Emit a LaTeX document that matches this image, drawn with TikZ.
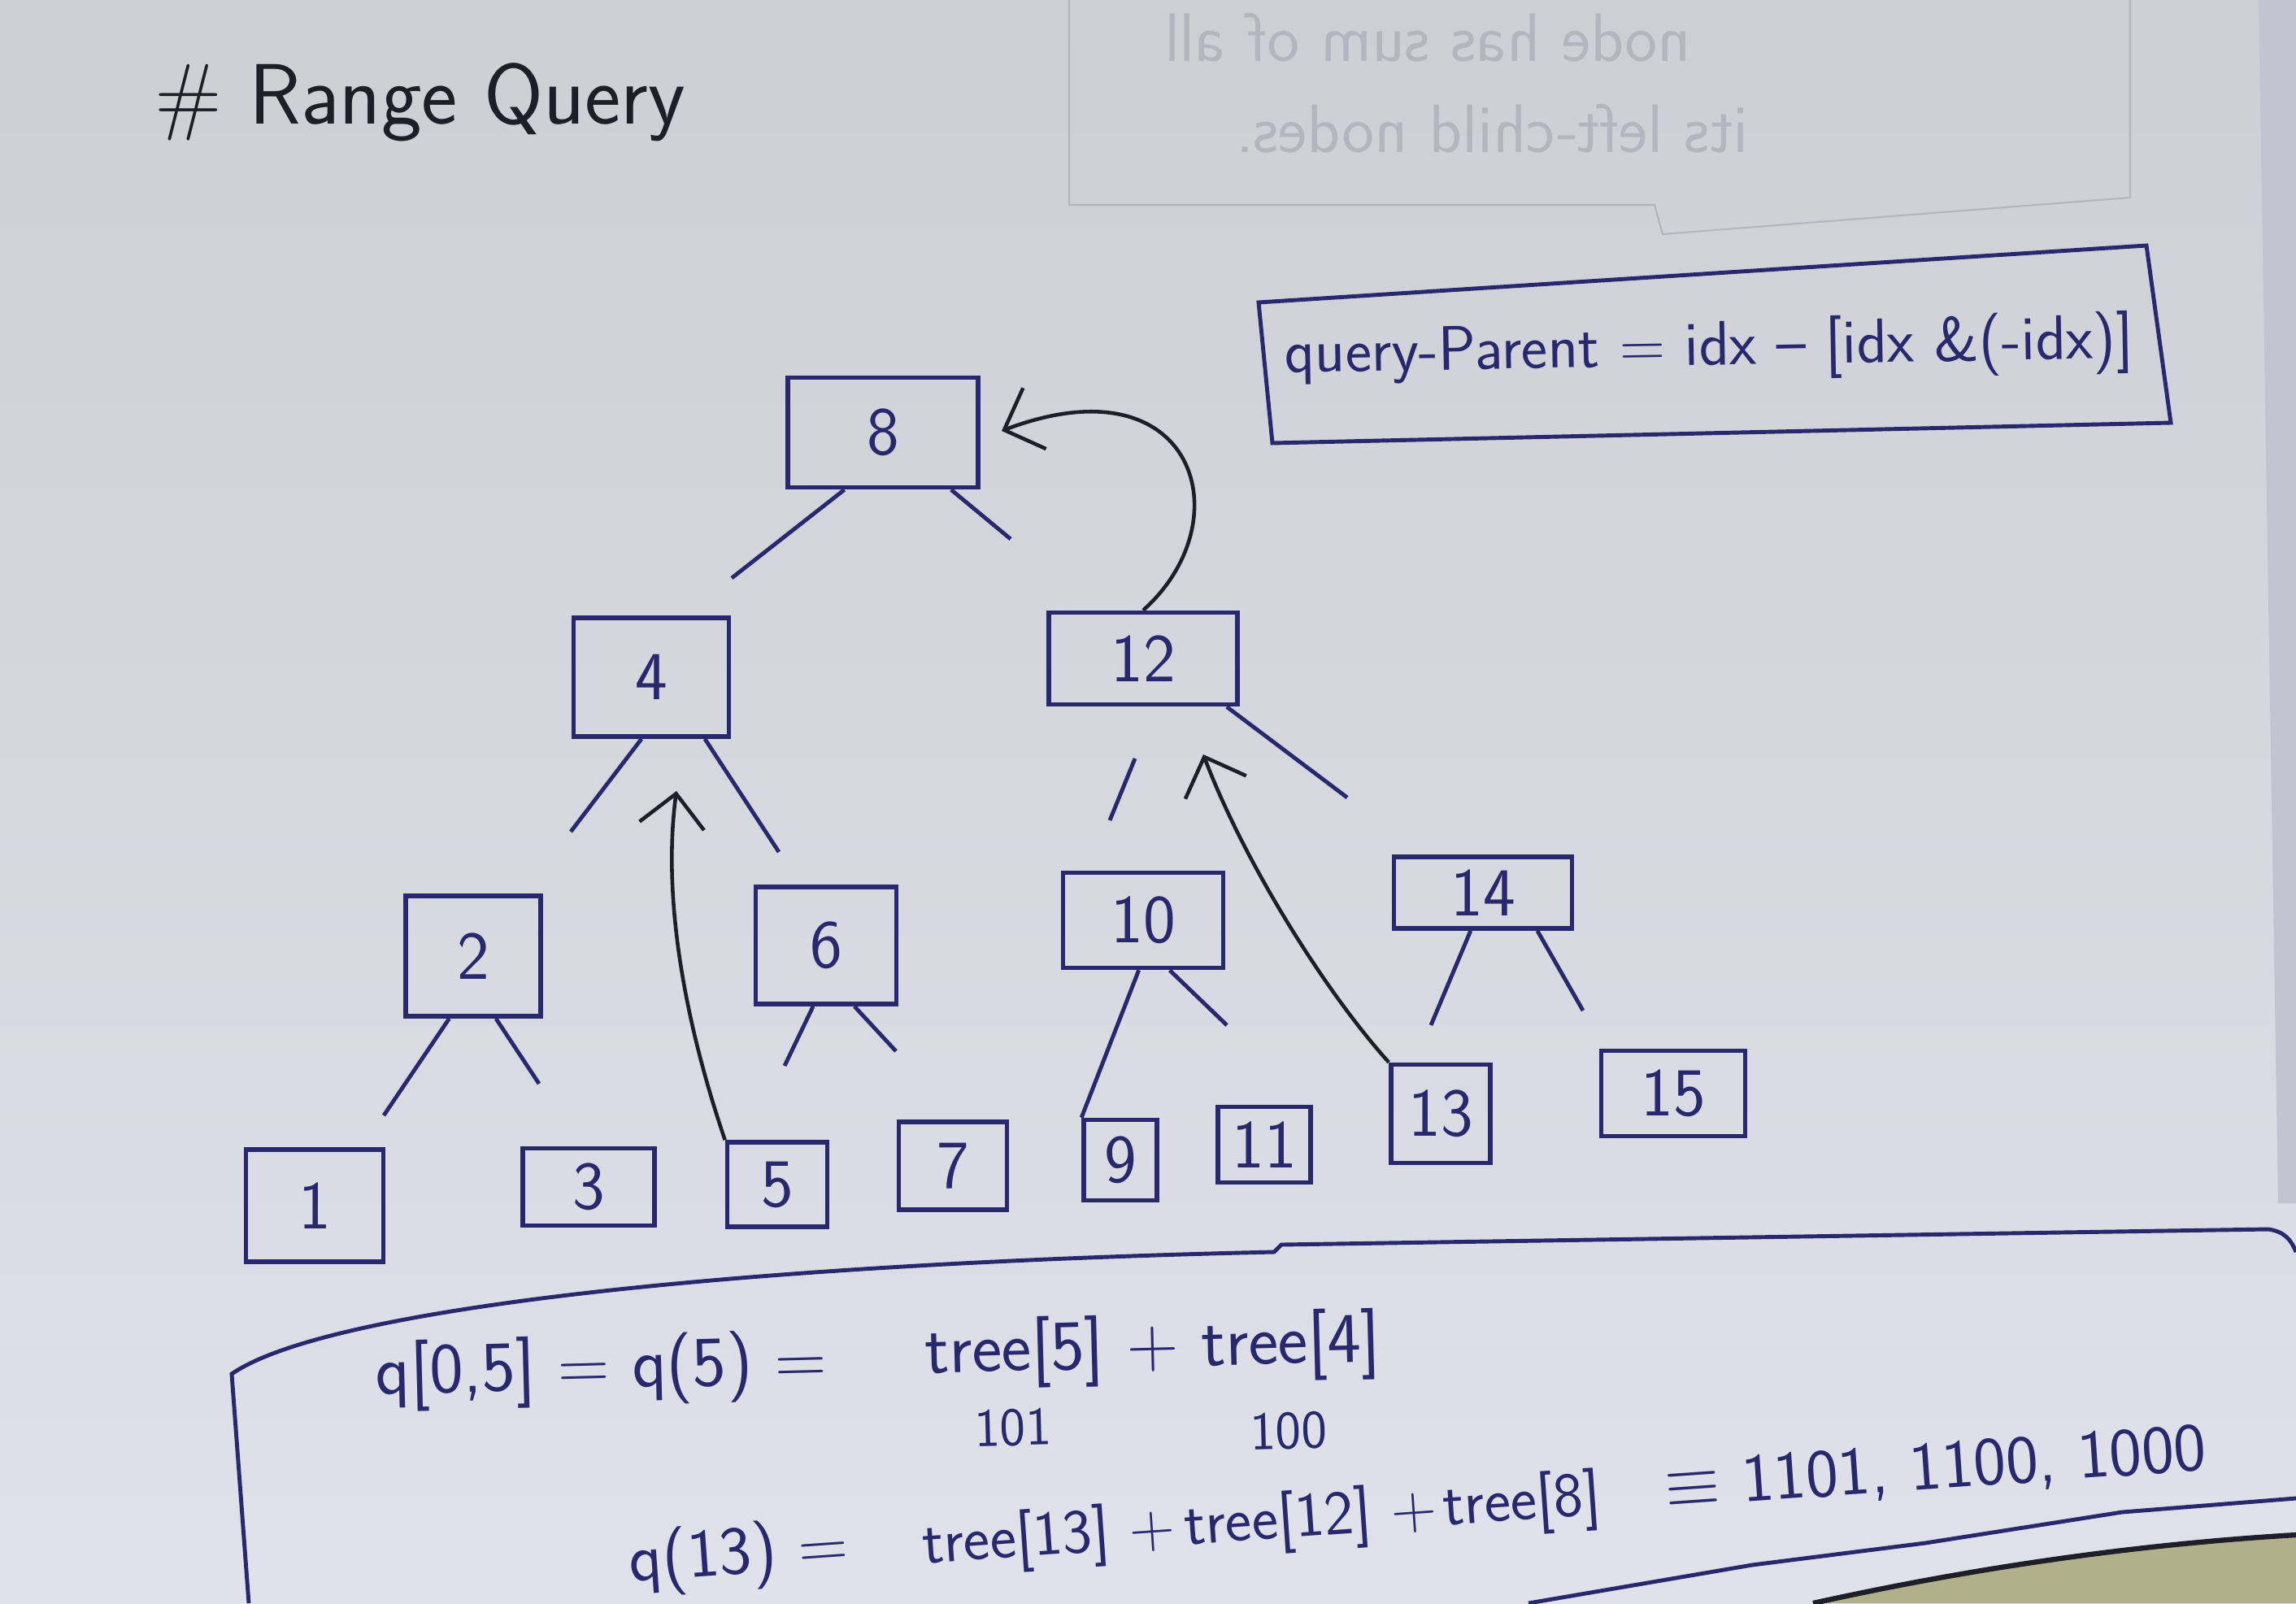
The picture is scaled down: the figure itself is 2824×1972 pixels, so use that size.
\documentclass[tikz,border=0pt]{standalone}
\usetikzlibrary{arrows.meta}
\definecolor{ink}{RGB}{40,41,108}
\definecolor{pen}{RGB}{30,30,40}
\definecolor{paperA}{RGB}{205,207,213}
\definecolor{paperB}{RGB}{223,225,235}
\definecolor{pagerim}{RGB}{194,196,210}
\definecolor{desk}{RGB}{176,176,138}
\definecolor{ghostgray}{RGB}{180,181,190}
\tikzset{
  cell/.style={draw=ink, line width=1.6pt, text=ink, inner sep=0pt,
    font=\sffamily\fontsize{24}{28}\selectfont},
  stub/.style={draw=ink, line width=1.4pt},
  hop/.style={draw=pen, line width=1.3pt, -{Straight Barb[length=0.4cm,width=0.8cm]}},
  note/.style={text=ink, font=\sffamily\fontsize{22}{26}\selectfont},
  sum/.style={text=ink, inner sep=0pt, font=\sffamily\fontsize{24}{28}\selectfont},
  small sum/.style={sum, font=\sffamily\fontsize{22}{26}\selectfont},
  bits/.style={sum, font=\sffamily\fontsize{19}{22}\selectfont},
  ghost/.style={draw=ghostgray, line width=0.6pt},
  ghosttext/.style={text=ghostgray, font=\sffamily\fontsize{24}{28}\selectfont}
}

\begin{document}
\begin{tikzpicture}[x=0.01cm,y=-0.01cm]
\useasboundingbox (0,0) rectangle (2824,1972);
\shade[top color=paperA,bottom color=paperB] (0,0) rectangle (2824,1972);
\fill[pagerim] (2778,0) -- (2824,0) -- (2824,1480) -- (2802,1480) -- cycle;
\fill[desk] (2230,1972) .. controls (2420,1930) and (2620,1900) .. (2824,1888) -- (2824,1972) -- cycle;
\draw[pen, line width=1.8pt] (2230,1972) .. controls (2420,1930) and (2620,1900) .. (2824,1888);

% back of the page
\draw[ghost] (1315,0) -- (1315,252) -- (2035,252) -- (2045,288) -- (2620,243) -- (2620,0);
\node[ghosttext, xscale=-1] (back1) at (1756,46) {node has sum of all};
\node[ghosttext, xscale=-1] (back2) at (1835,158) {its left-child nodes.};

\node[text=pen, font=\sffamily\fontsize{30}{34}\selectfont] (title) at (517,126) {\# Range Query};

\draw[stub] (1548,372) -- (2640,302) -- (2670,520) -- (1565,545) -- cycle;
\node[note, rotate=1] (parent) at (2102,430) {query-Parent = idx -- [idx \&(-idx)]};

\node[cell, minimum width=2.34cm, minimum height=1.35cm] (n8) at (1086,532) {8};
\node[cell, minimum width=1.91cm, minimum height=1.46cm] (n4) at (801,833) {4};
\node[cell, minimum width=2.32cm, minimum height=1.13cm] (n12) at (1406,810) {12};
\node[cell, minimum width=1.66cm, minimum height=1.48cm] (n2) at (582,1176) {2};
\node[cell, minimum width=1.73cm, minimum height=1.44cm] (n6) at (1016,1163) {6};
\node[cell, minimum width=1.97cm, minimum height=1.17cm] (n10) at (1406,1132) {10};
\node[cell, minimum width=2.19cm, minimum height=0.88cm] (n14) at (1824,1098) {14};
\node[cell, minimum width=1.69cm, minimum height=1.38cm] (n1) at (387,1483) {1};
\node[cell, minimum width=1.62cm, minimum height=0.95cm] (n3) at (724,1460) {3};
\node[cell, minimum width=1.23cm, minimum height=1.04cm] (n5) at (956,1457) {5};
\node[cell, minimum width=1.33cm, minimum height=1.08cm] (n7) at (1172,1434) {7};
\node[cell, minimum width=0.90cm, minimum height=0.99cm] (n9) at (1378,1427) {9};
\node[cell, minimum width=1.14cm, minimum height=0.93cm] (n11) at (1555,1408) {11};
\node[cell, minimum width=1.22cm, minimum height=1.21cm] (n13) at (1772,1370) {13};
\node[cell, minimum width=1.77cm, minimum height=1.05cm] (n15) at (2058,1345) {15};

\coordinate (s8l) at (900,711);   \coordinate (s8r) at (1243,663);
\coordinate (s4l) at (702,1023);  \coordinate (s4r) at (958,1048);
\coordinate (s12a) at (1396,933); \coordinate (s12l) at (1365,1009);
\coordinate (s12r) at (1657,981);
\coordinate (s2l) at (472,1372);  \coordinate (s2r) at (663,1333);
\coordinate (s6l) at (965,1311);  \coordinate (s6r) at (1102,1293);
\coordinate (s10r) at (1509,1261);
\coordinate (s14l) at (1760,1261); \coordinate (s14r) at (1947,1243);

\draw[stub] (n8.-124) -- (s8l);
\draw[stub] (n8.-40) -- (s8r);
\draw[stub] (n4.-99) -- (s4l);
\draw[stub] (n4.-49) -- (s4r);
\draw[stub] (s12a) -- (s12l);
\draw[stub] (n12.-30) -- (s12r);
\draw[stub] (n2.-111) -- (s2l);
\draw[stub] (n2.-70) -- (s2r);
\draw[stub] (n6.-102) -- (s6l);
\draw[stub] (n6.-65) -- (s6r);
\draw[stub] (n10.-95) -- (n9.north west);
\draw[stub] (n10.-62) -- (s10r);
\draw[stub] (n14.-108) -- (s14l);
\draw[stub] (n14.-35) -- (s14r);

\coordinate (t8) at (1232,530);
\coordinate (t4) at (832,973);
\coordinate (t12) at (1480,928);
\draw[hop] (n12.north) .. controls (1530,640) and (1470,440) .. (t8);
\draw[hop] (n5.north west) .. controls (840,1250) and (815,1100) .. (t4);
\draw[hop] (n13.north west) .. controls (1630,1220) and (1530,1060) .. (t12);

\draw[stub] (306,1972) -- (285,1690) .. controls (400,1610) and (900,1555) .. (1567,1540)
  -- (1576,1531) -- (2790,1512) .. controls (2810,1515) and (2818,1525) .. (2824,1540);
\draw[stub] (2824,1843) -- (2610,1860) -- (2368,1898) -- (2155,1925) -- (1880,1972);

\node[sum, font=\sffamily\fontsize{25}{29}\selectfont, rotate=1.5] (q5a) at (740,1686) {q[0,5] = q(5) =};
\node[sum, font=\sffamily\fontsize{25}{29}\selectfont, rotate=1.5] (q5b) at (1418,1660) {tree[5] + tree[4]};
\node[bits, rotate=1.5] (b101) at (1246,1756) {101};
\node[bits, rotate=1.5] (b100) at (1585,1760) {100};
\node[sum, rotate=4] (q13a) at (909,1915) {q(13) =};
\node[small sum, rotate=4] (q13b) at (1290,1893) {tree[13] +};
\node[small sum, rotate=4] (q13c) at (1612,1870) {tree[12] +};
\node[small sum, rotate=4] (q13d) at (1872,1850) {tree[8]};
\node[sum, rotate=4] (q13e) at (2381,1808) {$\equiv$ 1101,\ 1100,\ 1000};
\end{tikzpicture}
\end{document}
